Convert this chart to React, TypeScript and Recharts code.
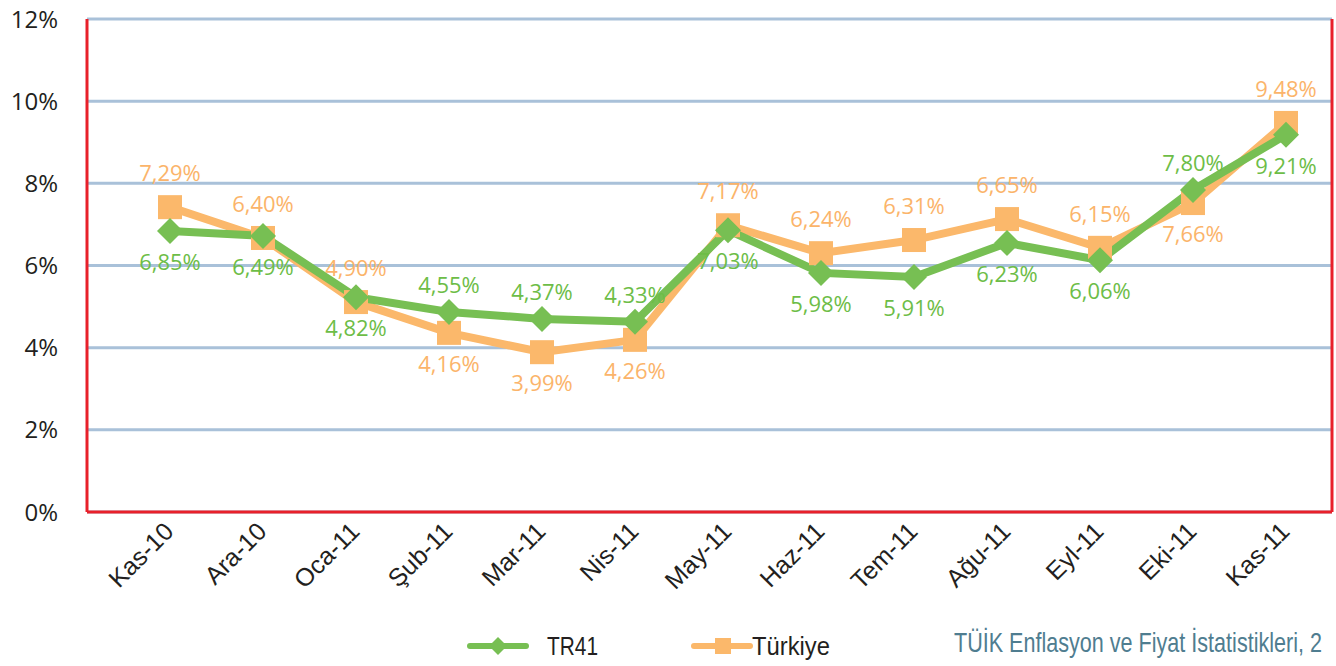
import React from 'react'
import { LineChart, Line, XAxis, YAxis, CartesianGrid, LabelList } from 'recharts'

const months = ['Kas-10', 'Ara-10', 'Oca-11', 'Şub-11', 'Mar-11', 'Nis-11', 'May-11', 'Haz-11', 'Tem-11', 'Ağu-11', 'Eyl-11', 'Eki-11', 'Kas-11']
const tr41 = [6.84, 6.72, 5.23, 4.87, 4.7, 4.63, 6.86, 5.82, 5.72, 6.55, 6.13, 7.84, 9.18]
const turkiye = [7.42, 6.67, 5.11, 4.36, 3.89, 4.19, 6.98, 6.3, 6.62, 7.13, 6.43, 7.52, 9.47]
const tr41Labels = ['6,85%', '6,49%', '4,82%', '4,55%', '4,37%', '4,33%', '7,03%', '5,98%', '5,91%', '6,23%', '6,06%', '7,80%', '9,21%']
const turkiyeLabels = ['7,29%', '6,40%', '4,90%', '4,16%', '3,99%', '4,26%', '7,17%', '6,24%', '6,31%', '6,65%', '6,15%', '7,66%', '9,48%']
const yTicks = [0, 2, 4, 6, 8, 10, 12]

const GREEN = '#77bf53'
const ORANGE = '#fbb86b'
const RED = '#e8202a'
const GRID = '#a9c1d9'
const DARK = '#231f20'

const data = months.map((m, i) => ({
  month: m,
  tr41: tr41[i],
  turkiye: turkiye[i],
}))

const Diamond = (props: any) => {
  const { cx, cy } = props
  if (cx == null || cy == null) return null
  const r = 13
  return (
    <polygon
      points={`${cx},${cy - r} ${cx + r},${cy} ${cx},${cy + r} ${cx - r},${cy}`}
      fill={GREEN}
    />
  )
}

const Square = (props: any) => {
  const { cx, cy } = props
  if (cx == null || cy == null) return null
  const s = 24
  return <rect x={cx - s / 2} y={cy - s / 2} width={s} height={s} fill={ORANGE} />
}

const XTick = ({ x, y, payload }: any) => {
  const tx = x + 5
  const ty = y + 13
  return (
    <text
      x={tx}
      y={ty}
      transform={`rotate(-45 ${tx} ${ty})`}
      textAnchor="end"
      fontSize={25}
      fontFamily="'Liberation Sans', Arial, sans-serif"
      fill={DARK}
    >
      {payload.value}
    </text>
  )
}

// label goes on the outer side of the pair of points
const makeLabel = (series: 'tr41' | 'turkiye') => (props: any) => {
  const i = props.index
  if (i == null) return null
  const px = props.viewBox?.x ?? props.x
  const py = props.viewBox?.y ?? props.y
  const mine = series === 'tr41' ? tr41[i] : turkiye[i]
  const other = series === 'tr41' ? turkiye[i] : tr41[i]
  let above: boolean
  if (series === 'turkiye') above = mine >= other - 0.15
  else above = mine > other + 0.15
  const text = series === 'tr41' ? tr41Labels[i] : turkiyeLabels[i]
  const up = series === 'turkiye' ? 35 : 28
  return (
    <text
      x={px}
      y={above ? py - up : py + 30}
      textAnchor="middle"
      dominantBaseline="central"
      fontSize={22}
      fontFamily="'Open Sans', sans-serif"
      fill={series === 'tr41' ? '#6dbd47' : '#fbb46a'}
    >
      {text}
    </text>
  )
}

export default function App() {
  return (
    <div style={{ position: 'absolute', left: 0, top: 0, width: 1336, height: 666, background: '#fff', overflow: 'hidden' }}>
      <LineChart width={1336} height={666} data={data} margin={{ top: 19, right: 0, bottom: 0, left: 0 }}>
        <CartesianGrid vertical={false} stroke={GRID} strokeWidth={3} />
        <XAxis
          dataKey="month"
          interval={0}
          height={154}
          tickLine={false}
          axisLine={{ stroke: RED, strokeWidth: 3 }}
          padding={{ left: 83, right: 46 }}
          tick={<XTick />}
        />
        <YAxis
          width={87}
          domain={[0, 12]}
          ticks={yTicks}
          tickFormatter={(v: number) => `${v}%`}
          tickLine={false}
          tickSize={0}
          tickMargin={29}
          axisLine={{ stroke: RED, strokeWidth: 3 }}
          tick={{ fontSize: 24, fill: DARK, fontFamily: "'Open Sans', sans-serif" }}
        />
        <YAxis
          yAxisId="r"
          orientation="right"
          width={4}
          domain={[0, 12]}
          tick={false}
          tickLine={false}
          axisLine={{ stroke: RED, strokeWidth: 3 }}
        />
        <Line
          dataKey="turkiye"
          stroke={ORANGE}
          strokeWidth={8}
          dot={<Square />}
          activeDot={false}
          isAnimationActive={false}
        >
          <LabelList dataKey="turkiye" content={makeLabel('turkiye')} />
        </Line>
        <Line
          dataKey="tr41"
          stroke={GREEN}
          strokeWidth={8}
          dot={<Diamond />}
          activeDot={false}
          isAnimationActive={false}
        >
          <LabelList dataKey="tr41" content={makeLabel('tr41')} />
        </Line>
      </LineChart>
      <svg width={1336} height={666} style={{ position: 'absolute', left: 0, top: 0, pointerEvents: 'none' }}>
        <line x1={470} y1={646} x2={526} y2={646} stroke={GREEN} strokeWidth={6} strokeLinecap="round" />
        <polygon points="498,637 507,646 498,655 489,646" fill={GREEN} />
        <text x={547} y={655} fontSize={25} textLength={51} lengthAdjust="spacingAndGlyphs" fontFamily="'Liberation Sans Narrow', 'Liberation Sans', Arial, sans-serif" fill={DARK}>
          TR41
        </text>
        <line x1={694} y1={646} x2={750} y2={646} stroke={ORANGE} strokeWidth={6} strokeLinecap="round" />
        <rect x={715} y={638} width={16} height={16} fill={ORANGE} />
        <text x={752} y={655} fontSize={25} textLength={78} lengthAdjust="spacingAndGlyphs" fontFamily="'Liberation Sans Narrow', 'Liberation Sans', Arial, sans-serif" fill={DARK}>
          Türkiye
        </text>
        <text x={954} y={652} fontSize={28} textLength={368} lengthAdjust="spacingAndGlyphs" fontFamily="'Liberation Sans Narrow', 'Liberation Sans', Arial, sans-serif" fill="#4f7d90">
          TÜİK Enflasyon ve Fiyat İstatistikleri, 2
        </text>
      </svg>
    </div>
  )
}
